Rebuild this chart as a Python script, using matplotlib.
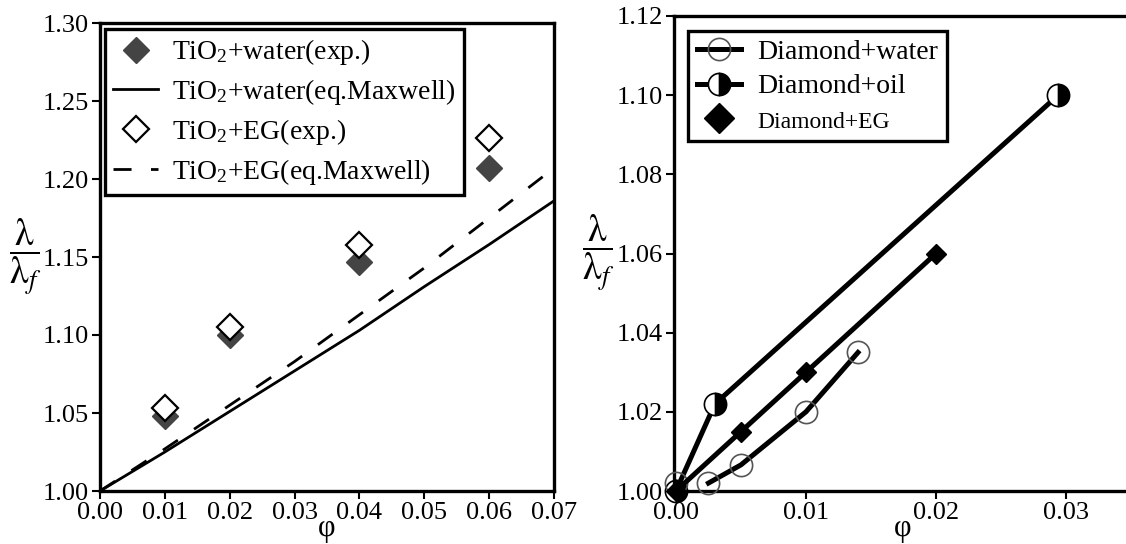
import matplotlib
matplotlib.use("Agg")
import matplotlib.pyplot as plt
from matplotlib.lines import Line2D

plt.rcParams["font.family"] = ["Liberation Serif", "DejaVu Serif"]
plt.rcParams["mathtext.fontset"] = "custom"
plt.rcParams["mathtext.rm"] = "Liberation Serif"
plt.rcParams["mathtext.it"] = "Liberation Serif:italic"

# ---- left panel: TiO2 nanofluids ----
phi_exp = [0.01, 0.02, 0.04, 0.06]
tio2_water_exp = [1.048, 1.100, 1.147, 1.207]
tio2_eg_exp = [1.053, 1.105, 1.158, 1.226]

phi_model = [0.00, 0.01, 0.02, 0.03, 0.04, 0.05, 0.06, 0.07]
tio2_water_maxwell = [1.000, 1.025, 1.051, 1.077, 1.103, 1.131, 1.158, 1.186]
tio2_eg_maxwell = [1.000, 1.027, 1.055, 1.083, 1.113, 1.143, 1.175, 1.207]

# ---- right panel: diamond nanofluids ----
phi_dia_water = [0.0, 0.0025, 0.005, 0.010, 0.014]
dia_water = [1.002, 1.002, 1.0066, 1.020, 1.035]
phi_dia_oil = [0.0, 0.003, 0.0294]
dia_oil = [1.000, 1.022, 1.100]
phi_dia_eg = [0.0, 0.005, 0.010, 0.020]
dia_eg = [1.000, 1.015, 1.030, 1.060]

FS = 19
LFS = 20
W, H = 1126, 544
fig = plt.figure(figsize=(W / 100, H / 100), dpi=100)
ax1 = fig.add_axes([100 / W, 53 / H, 454 / W, 468 / H])
ax2 = fig.add_axes([674 / W, 53 / H, 457 / W, 475 / H])


def style_axes(ax):
    for s in ax.spines.values():
        s.set_linewidth(2.4)
    ax.tick_params(direction="out", length=6, width=1.5, labelsize=FS, pad=2)
    ax.set_xlabel("φ", fontsize=FS + 3, labelpad=-7)
    ax.text(-0.165, 0.5, r"$\dfrac{\mathrm{\lambda}}{\mathrm{\lambda}_f}$", transform=ax.transAxes,
            fontsize=FS + 8, ha="center", va="center", math_fontfamily="stix")


# left
ax1.plot(phi_exp, tio2_water_exp, linestyle="none", marker="D", markersize=13,
         color="#444444", label="TiO$_2$+water(exp.)", zorder=3)
ax1.plot(phi_model, tio2_water_maxwell, color="black", linewidth=2.0,
         label="TiO$_2$+water(eq.Maxwell)")
ax1.plot(phi_exp, tio2_eg_exp, linestyle="none", marker="D", markersize=13,
         markerfacecolor="white", markeredgecolor="black", markeredgewidth=1.6,
         label="TiO$_2$+EG(exp.)", zorder=4)
ax1.plot(phi_model, tio2_eg_maxwell, color="black", linewidth=2.0, dashes=(6.5, 7),
         label="TiO$_2$+EG(eq.Maxwell)")
ax1.set_xlim(0, 0.07)
ax1.set_ylim(1.0, 1.3)
ax1.set_xticks([0.00, 0.01, 0.02, 0.03, 0.04, 0.05, 0.06, 0.07])
ax1.set_yticks([1.00, 1.05, 1.10, 1.15, 1.20, 1.25, 1.30])
ax1.xaxis.set_major_formatter("{x:.2f}")
ax1.yaxis.set_major_formatter("{x:.2f}")
style_axes(ax1)
leg1 = ax1.legend(loc="upper left", bbox_to_anchor=(0.011, 0.987), borderaxespad=0,
                  fontsize=LFS, frameon=True, fancybox=False, edgecolor="black",
                  framealpha=1, handlelength=1.6, handletextpad=0.5, labelspacing=0.35,
                  borderpad=0.3)
leg1.get_frame().set_linewidth(2.4)

# right
ax2.plot(phi_dia_water[1:], dia_water[1:], color="black", linewidth=3.6, zorder=2)
ax2.plot(phi_dia_water, dia_water, linestyle="none", marker="o", markersize=16,
         markerfacecolor="none", markeredgecolor="#555555", markeredgewidth=1.2, zorder=3)
ax2.plot(phi_dia_oil, dia_oil, color="black", linewidth=3.6, marker="o", markersize=16,
         fillstyle="right", markerfacecolor="black", markerfacecoloralt="white",
         markeredgecolor="black", markeredgewidth=1.2, zorder=2)
ax2.plot(phi_dia_eg, dia_eg, color="black", linewidth=3.6, marker="D", markersize=10,
         zorder=4)
for line in ax2.lines:
    line.set_clip_on(False)
ax2.set_xlim(-0.00015, 0.035)
ax2.set_ylim(1.0, 1.12)
ax2.set_xticks([0.00, 0.01, 0.02, 0.03])
ax2.set_yticks([1.00, 1.02, 1.04, 1.06, 1.08, 1.10, 1.12])
ax2.xaxis.set_major_formatter("{x:.2f}")
ax2.yaxis.set_major_formatter("{x:.2f}")
style_axes(ax2)
ax2.spines["right"].set_visible(False)

handles = [
    Line2D([], [], color="black", linewidth=3.6, marker="o", markersize=16,
           markerfacecolor="none", markeredgecolor="#555555", markeredgewidth=1.2),
    Line2D([], [], color="black", linewidth=3.6, marker="o", markersize=16,
           fillstyle="right", markerfacecolor="black", markerfacecoloralt="white",
           markeredgecolor="black", markeredgewidth=1.2),
    Line2D([], [], linestyle="none", marker="D", markersize=15, color="black"),
]
labels = ["Diamond+water", "Diamond+oil", "Diamond+EG"]
leg2 = ax2.legend(handles, labels, loc="upper left", bbox_to_anchor=(0.031, 0.968),
                  borderaxespad=0, fontsize=LFS, frameon=True, fancybox=False,
                  edgecolor="black", framealpha=1, handlelength=1.6, handletextpad=0.6,
                  labelspacing=0.32, borderpad=0.3)
leg2.get_frame().set_linewidth(2.4)
leg2.get_texts()[2].set_fontsize(LFS - 3)

fig.savefig("out.png", dpi=100)
